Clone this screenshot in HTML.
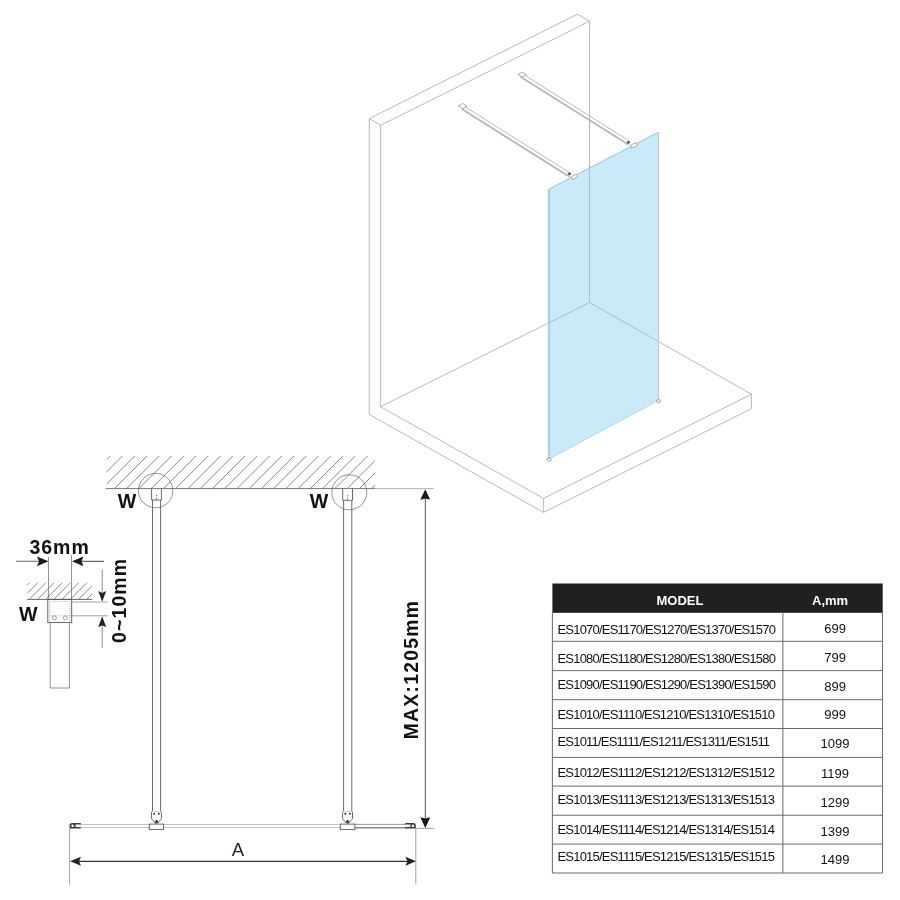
<!DOCTYPE html>
<html><head><meta charset="utf-8">
<style>
html,body{margin:0;padding:0;background:#fff;width:900px;height:900px;overflow:hidden}
svg{position:absolute;left:0;top:0;display:block}
text{font-family:"Liberation Sans",sans-serif}
svg{will-change:transform}
</style></head>
<body>
<svg width="900" height="900" viewBox="0 0 900 900">
<defs>
  <clipPath id="hc1"><rect x="106.7" y="456" width="268.4" height="32.6"/></clipPath>
  <clipPath id="hc2"><rect x="27.2" y="582.8" width="64.8" height="16.6"/></clipPath>
</defs>

<!-- ===== 3D isometric view ===== -->
<g fill="none" stroke="#a6a6a6" stroke-width="0.8">
  <!-- wall -->
  <path d="M369.3 118.7 L369.3 414.5 M369.3 118.7 L577.3 14.2 L589.5 21.3 M369.3 118.7 L380.6 125.3 L589.5 21.3 M380.6 125.3 L380.6 406.7 M589.5 21.3 L589.5 302.5"/>
  <!-- floor -->
  <path d="M380.6 406.7 L589.5 302.5 L751.4 394.2 L543.6 498.4 L380.6 406.7 M369.3 414.5 L543.6 512.4 L751.4 408.7 L751.4 394.2 M543.6 498.4 L543.6 512.4"/>
</g>
<!-- glass -->
<polygon points="548.5,189.2 658.2,132.2 658.4,400.5 548.7,459.2" fill="#cae9f9"/>
<line x1="549" y1="189.5" x2="549" y2="459" stroke="#a6d0e6" stroke-width="2"/>
<line x1="548.5" y1="189.4" x2="658.2" y2="132.3" stroke="#98c0d4" stroke-width="1"/>
<line x1="658.4" y1="132.2" x2="658.4" y2="400" stroke="#c2c6c8" stroke-width="1"/>
<line x1="548.7" y1="459.2" x2="658.4" y2="400.5" stroke="#aed3e6" stroke-width="0.8"/>
<!-- lines seen through glass -->
<g fill="none" stroke="#9db6c4" stroke-width="0.8">
  <path d="M589.5 168.5 L589.5 302.5 M548.7 323 L589.5 302.5 L658.5 341.5"/>
</g>
<!-- bars -->
<g fill="#fff" stroke="#8a8a8a" stroke-width="0.7">
  <path d="M463 105.5 L571 173.5 M522 73.5 L630 141.5" stroke="#a8a8a8" stroke-width="0.8" fill="none"/>
  <path d="M461.5 108.8 L569.5 176.8 M520.5 76.8 L628.5 144.8" stroke="#b8b8b8" stroke-width="1.9" fill="none"/>
  <path d="M458.5 106 L462.5 103.5 L467 106 L463 108.5 Z"/>
  <path d="M518 74.5 L522 72 L526.5 74.5 L522.5 77 Z"/>
  <path d="M571 176.8 L576.5 174.2 L577.8 176.8 L572.3 179.5 Z"/>
  <path d="M630.5 145.3 L636 142.7 L637.3 145.3 L631.8 148 Z"/>
</g>
<g fill="#555">
  <path d="M567.5 173.5 L570 172.3 L571.3 174.3 L568.8 175.5 Z"/>
  <path d="M626.5 142 L629 140.8 L630.3 142.8 L627.8 144 Z"/>
</g>
<g fill="#fff" stroke="#777" stroke-width="0.7">
  <ellipse cx="548.9" cy="459.6" rx="2.3" ry="1.5"/>
  <ellipse cx="658.6" cy="401.2" rx="2" ry="1.6"/>
</g>

<!-- ===== Plan view ===== -->
<!-- hatch -->
<g clip-path="url(#hc1)" stroke="#555" stroke-width="0.7" fill="none" id="hatch1"><path d="M65.40 488.6 L105.40 448.6 M77.65 488.6 L117.65 448.6 M89.90 488.6 L129.90 448.6 M102.15 488.6 L142.15 448.6 M114.40 488.6 L154.40 448.6 M126.65 488.6 L166.65 448.6 M138.90 488.6 L178.90 448.6 M151.15 488.6 L191.15 448.6 M163.40 488.6 L203.40 448.6 M175.65 488.6 L215.65 448.6 M187.90 488.6 L227.90 448.6 M200.15 488.6 L240.15 448.6 M212.40 488.6 L252.40 448.6 M224.65 488.6 L264.65 448.6 M236.90 488.6 L276.90 448.6 M249.15 488.6 L289.15 448.6 M261.40 488.6 L301.40 448.6 M273.65 488.6 L313.65 448.6 M285.90 488.6 L325.90 448.6 M298.15 488.6 L338.15 448.6 M310.40 488.6 L350.40 448.6 M322.65 488.6 L362.65 448.6 M334.90 488.6 L374.90 448.6 M347.15 488.6 L387.15 448.6 M359.40 488.6 L399.40 448.6 M371.65 488.6 L411.65 448.6 M383.90 488.6 L423.90 448.6 M396.15 488.6 L436.15 448.6"/></g>
<line x1="105.6" y1="488.6" x2="375.1" y2="488.6" stroke="#666" stroke-width="0.9"/>
<line x1="375.1" y1="488.6" x2="433.8" y2="488.6" stroke="#aaa" stroke-width="0.9"/>
<!-- circles -->
<circle cx="155.6" cy="490.6" r="17.2" fill="none" stroke="#666" stroke-width="0.7"/>
<circle cx="349.3" cy="492.3" r="17.5" fill="none" stroke="#666" stroke-width="0.7"/>
<!-- posts -->
<g fill="none" stroke="#5a5a5a" stroke-width="0.9">
  <path d="M152.5 500 L152.5 811.7 M160.6 500 L160.6 811.7"/>
  <path d="M151.6 488.6 L151.6 500 L161.4 500 L161.4 488.6"/>
  <path d="M343.6 500.3 L343.6 811.7 M351.8 500.3 L351.8 811.7"/>
  <path d="M342.7 488.6 L342.7 500.3 L352.5 500.3 L352.5 488.6"/>
  <path d="M151.5 811.7 L151.5 818.7 L155 823 L158 823 L161.4 818.7 L161.4 811.7"/>
  <path d="M342.6 811.7 L342.6 818.7 L346 823 L349 823 L352.5 818.7 L352.5 811.7"/>
  <path d="M151.5 811.7 H161.4 M342.6 811.7 H352.5" stroke="#ccc"/>
</g>
<g fill="#333">
  <circle cx="156.5" cy="495.6" r="0.6"/><circle cx="156.5" cy="498.6" r="0.6"/>
  <circle cx="347.6" cy="495.8" r="0.6"/><circle cx="347.6" cy="498.8" r="0.6"/>
  <circle cx="154.2" cy="813.8" r="1"/><circle cx="158.8" cy="813.8" r="1"/>
  <circle cx="345.3" cy="813.8" r="1"/><circle cx="349.9" cy="813.8" r="1"/>
  <circle cx="156.5" cy="821.5" r="1.5"/><circle cx="347.6" cy="821.5" r="1.5"/>
</g>
<!-- glass bar bottom -->
<g fill="none" stroke-width="1">
  <path d="M80 824.5 L355 824.5 M80 827.5 L355 827.5" stroke="#c4c4c4"/>
  <path d="M354 824.4 L406 824.4" stroke="#9a9a9a"/>
  <path d="M354 827.7 L406 827.7" stroke="#8a8a8a" stroke-width="1.5"/>
</g>
<g fill="#fff" stroke="#5a5a5a" stroke-width="0.9">
  <rect x="149.3" y="824.1" width="14.2" height="5.3"/>
  <rect x="340.3" y="824.1" width="14.6" height="5.5"/>
</g>
<!-- end brackets -->
<g fill="#3a3f46" fill-rule="evenodd">
  <path d="M80.8 822.9 L72 822.9 Q69.9 822.9 69.9 825 L69.9 828.5 L80.8 828.5 L80.8 826.9 L75.6 826.9 L75.6 824.6 L80.8 824.6 Z M72.6 824.5 A1.3 1.3 0 1 0 72.61 824.5 Z"/>
  <path d="M405.2 822.9 L413.5 822.9 Q415.8 822.9 415.8 825.2 L415.8 828.5 L405.2 828.5 L405.2 826.9 L410.4 826.9 L410.4 824.6 L405.2 824.6 Z M412.9 824.5 A1.3 1.3 0 1 0 412.91 824.5 Z"/>
</g>
<!-- extension lines -->
<g stroke="#999" stroke-width="0.9">
  <line x1="69.6" y1="824" x2="69.6" y2="884.7"/>
  <line x1="415.8" y1="828" x2="415.8" y2="884.5"/>
  <line x1="415.8" y1="828.4" x2="434" y2="828.4"/>
</g>
<!-- A dimension -->
<line x1="76" y1="861.3" x2="410" y2="861.3" stroke="#333" stroke-width="1.3"/>
<path d="M70 861.3 L81 856.8 L79 861.3 L81 865.8 Z" fill="#222"/>
<path d="M415.9 861.3 L405.4 856.8 L407.4 861.3 L405.4 865.8 Z" fill="#222"/>
<text x="238" y="856" font-size="18.6" text-anchor="middle" fill="#222">A</text>
<!-- vertical MAX dimension -->
<line x1="425.3" y1="496" x2="425.3" y2="822" stroke="#555" stroke-width="1"/>
<path d="M425.3 489.3 L420.3 499.8 L425.3 498.6 L430.2 499.8 Z" fill="#1a1a1a"/>
<path d="M425.3 828 L420.3 817.3 L425.3 818.5 L430.3 817.3 Z" fill="#1a1a1a"/>
<text transform="translate(417.7 739.3) rotate(-90)" font-size="19.3" font-weight="bold" letter-spacing="1.3" fill="#111">MAX:1205mm</text>
<!-- W labels -->
<text x="117.8" y="507.8" font-size="19.6" font-weight="bold" fill="#111">W</text>
<text x="309.8" y="507.8" font-size="19.6" font-weight="bold" fill="#111">W</text>

<!-- ===== detail ===== -->
<g clip-path="url(#hc2)" stroke="#555" stroke-width="0.7" fill="none" id="hatch2"><path d="M-3.60 599.4 L16.40 579.4 M4.60 599.4 L24.60 579.4 M12.80 599.4 L32.80 579.4 M21.00 599.4 L41.00 579.4 M29.20 599.4 L49.20 579.4 M37.40 599.4 L57.40 579.4 M45.60 599.4 L65.60 579.4 M53.80 599.4 L73.80 579.4 M62.00 599.4 L82.00 579.4 M70.20 599.4 L90.20 579.4 M78.40 599.4 L98.40 579.4 M86.60 599.4 L106.60 579.4 M94.80 599.4 L114.80 579.4 M103.00 599.4 L123.00 579.4"/></g>
<line x1="27.2" y1="599.4" x2="92" y2="599.4" stroke="#555" stroke-width="0.9"/>
<g fill="none" stroke="#777" stroke-width="0.8">
  <line x1="48.5" y1="557" x2="48.5" y2="599.4"/>
  <line x1="71.5" y1="555" x2="71.5" y2="599.4"/>
</g>
<rect x="47.8" y="599.4" width="23.9" height="23.2" fill="none" stroke="#555" stroke-width="0.9"/>
<rect x="49.8" y="601.4" width="20" height="20.8" fill="none" stroke="#888" stroke-width="0.6" stroke-dasharray="1.2 1.2"/>
<line x1="49.8" y1="615.9" x2="69.8" y2="615.9" stroke="#888" stroke-width="0.6" stroke-dasharray="1.2 1.2"/>
<circle cx="54.4" cy="617.8" r="2" fill="none" stroke="#666" stroke-width="0.6"/>
<circle cx="65.3" cy="617.8" r="2" fill="none" stroke="#666" stroke-width="0.6"/>
<path d="M50.2 622.6 L50.2 688 L69.4 688 L69.4 622.6" fill="none" stroke="#777" stroke-width="0.8"/>
<g stroke="#999" stroke-width="0.9">
  <line x1="71.7" y1="602" x2="107.8" y2="602"/>
  <line x1="69.8" y1="615.8" x2="107.8" y2="615.8"/>
</g>
<!-- 36mm arrows -->
<line x1="16" y1="561.3" x2="40" y2="561.3" stroke="#777" stroke-width="1.1"/>
<path d="M48.5 561.3 L37 556.4 L39 561.3 L37 566.2 Z" fill="#1a1a1a"/>
<line x1="80" y1="561.3" x2="104" y2="561.3" stroke="#444" stroke-width="1"/>
<path d="M72 561.3 L83.5 556.4 L81.5 561.3 L83.5 566.2 Z" fill="#1a1a1a"/>
<text x="29.4" y="554.1" font-size="19.5" font-weight="bold" letter-spacing="1" fill="#111">36mm</text>
<!-- 0~10 arrows -->
<line x1="102.2" y1="570" x2="102.2" y2="594" stroke="#888" stroke-width="1"/>
<path d="M102.2 601.7 L98.2 591.1 L102.2 593.1 L106.2 591.1 Z" fill="#222"/>
<line x1="102.2" y1="625" x2="102.2" y2="647.8" stroke="#888" stroke-width="1"/>
<path d="M102.2 616.3 L98.2 627.2 L102.2 625.2 L106.2 627.2 Z" fill="#222"/>
<text transform="translate(125.6 643) rotate(-90)" font-size="19.5" font-weight="bold" letter-spacing="1.1" fill="#111">0~10mm</text>
<text x="19" y="620.7" font-size="19.6" font-weight="bold" fill="#111">W</text>

<!-- ===== table ===== -->
<rect x="552.4" y="583.5" width="330.3" height="29.3" fill="#202020"/>
<g stroke="#6a6a6a" stroke-width="1" fill="none">
  <path d="M552.4 612.5 L552.4 873 L882.5 873 L882.5 612.5"/>
  <path d="M782.9 612.5 L782.9 873"/>
  <path d="M552.4 641.3 H882.5 M552.4 670.6 H882.5 M552.4 699.7 H882.5 M552.4 728.5 H882.5 M552.4 757.4 H882.5 M552.4 786.1 H882.5 M552.4 815.2 H882.5 M552.4 844.1 H882.5"/>
</g>
<text x="680" y="605" font-size="13" font-weight="bold" fill="#fff" text-anchor="middle">MODEL</text>
<text x="812" y="605" font-size="13" font-weight="bold" fill="#fff">A,mm</text>
<g font-size="13" fill="#111" letter-spacing="-0.8">
  <text x="557.5" y="634.1">ES1070/ES1170/ES1270/ES1370/ES1570</text>
  <text x="557.5" y="663.3">ES1080/ES1180/ES1280/ES1380/ES1580</text>
  <text x="557.5" y="689.4">ES1090/ES1190/ES1290/ES1390/ES1590</text>
  <text x="557.5" y="719.4">ES1010/ES1110/ES1210/ES1310/ES1510</text>
  <text x="557.5" y="745.6">ES1011/ES1111/ES1211/ES1311/ES1511</text>
  <text x="557.5" y="777.2">ES1012/ES1112/ES1212/ES1312/ES1512</text>
  <text x="557.5" y="803.7">ES1013/ES1113/ES1213/ES1313/ES1513</text>
  <text x="557.5" y="834.3">ES1014/ES1114/ES1214/ES1314/ES1514</text>
  <text x="557.5" y="860.8">ES1015/ES1115/ES1215/ES1315/ES1515</text>
</g>
<g font-size="13" fill="#111" text-anchor="middle">
  <text x="835.2" y="633.3">699</text>
  <text x="835.2" y="662">799</text>
  <text x="835.2" y="690.7">899</text>
  <text x="835.2" y="719.1">999</text>
  <text x="835" y="747.9">1099</text>
  <text x="835" y="777.5">1199</text>
  <text x="835" y="806.8">1299</text>
  <text x="835" y="835.7">1399</text>
  <text x="835" y="864.2">1499</text>
</g>
</svg>
</body></html>
